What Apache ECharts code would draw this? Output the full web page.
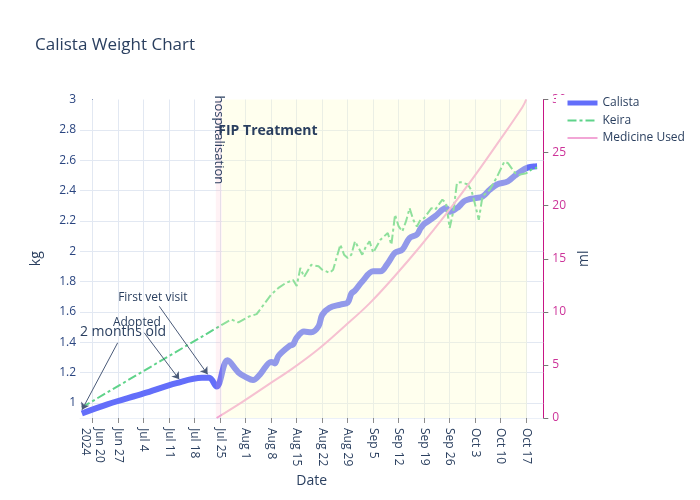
<!DOCTYPE html>
<html><head><meta charset="utf-8">
<script src="https://cdn.jsdelivr.net/npm/echarts@6/dist/echarts.min.js"></script>
<style>html,body{margin:0;padding:0;background:#fff}#c{width:700px;height:500px}</style>
</head><body><div id="c"></div>
<script>
// ---------- data ----------
const calistaDates = ['2024-06-17','2024-06-24','2024-07-04','2024-07-13','2024-07-20','2024-07-22','2024-07-24','2024-07-27','2024-07-30','2024-08-01','2024-08-03','2024-08-05','2024-08-08','2024-08-09','2024-08-10','2024-08-13','2024-08-14','2024-08-15','2024-08-17','2024-08-19','2024-08-21','2024-08-22','2024-08-24','2024-08-27','2024-08-29','2024-08-30','2024-08-31','2024-09-02','2024-09-05','2024-09-07','2024-09-09','2024-09-11','2024-09-13','2024-09-15','2024-09-17','2024-09-18','2024-09-19','2024-09-20','2024-09-22','2024-09-25','2024-09-26','2024-09-28','2024-09-29','2024-09-30','2024-10-01','2024-10-03','2024-10-05','2024-10-07','2024-10-09','2024-10-12','2024-10-14','2024-10-17','2024-10-19','2024-10-20'];
const calistaKg = [0.93,0.99,1.062,1.13,1.165,1.165,1.107,1.28,1.20,1.17,1.15,1.19,1.27,1.26,1.31,1.375,1.385,1.43,1.47,1.465,1.505,1.58,1.626,1.648,1.66,1.72,1.74,1.80,1.867,1.867,1.92,1.99,2.01,2.087,2.11,2.15,2.18,2.196,2.23,2.284,2.26,2.284,2.306,2.33,2.34,2.35,2.36,2.405,2.44,2.46,2.50,2.547,2.558,2.56];

const keiraDates = ['2024-06-17','2024-07-28','2024-07-30','2024-08-02','2024-08-04','2024-08-08','2024-08-10','2024-08-12','2024-08-14','2024-08-15','2024-08-16','2024-08-17','2024-08-19','2024-08-21','2024-08-22','2024-08-24','2024-08-25','2024-08-27','2024-08-28','2024-08-29','2024-08-30','2024-08-31','2024-09-02','2024-09-03','2024-09-04','2024-09-05','2024-09-07','2024-09-09','2024-09-10','2024-09-11','2024-09-12','2024-09-13','2024-09-14','2024-09-15','2024-09-16','2024-09-17','2024-09-18','2024-09-19','2024-09-21','2024-09-22','2024-09-24','2024-09-25','2024-09-26','2024-09-27','2024-09-28','2024-09-29','2024-10-01','2024-10-02','2024-10-03','2024-10-04','2024-10-05','2024-10-07','2024-10-09','2024-10-11','2024-10-12','2024-10-14','2024-10-15','2024-10-17','2024-10-19','2024-10-20'];
const keiraKg = [0.97,1.55,1.53,1.57,1.585,1.714,1.758,1.79,1.81,1.77,1.89,1.83,1.91,1.90,1.878,1.857,1.878,2.043,1.977,1.955,1.977,2.065,1.977,2.03,2.065,1.99,2.076,2.12,2.043,2.24,2.163,2.13,2.196,2.284,2.207,2.163,2.207,2.218,2.284,2.273,2.34,2.317,2.153,2.262,2.45,2.455,2.44,2.40,2.306,2.207,2.36,2.405,2.49,2.59,2.58,2.514,2.503,2.514,2.547,2.55];

const medicineDates = ['2024-07-24','2024-07-31','2024-08-07','2024-08-14','2024-08-21','2024-08-28','2024-09-04','2024-09-11','2024-09-18','2024-09-25','2024-10-02','2024-10-09','2024-10-16','2024-10-17'];
const medicineMl = [0,1.5,3.1,4.7,6.5,8.6,10.8,13.4,16.2,19.2,22.4,25.8,29.3,30];

const xTickDates = ['2024-06-20','2024-06-27','2024-07-04','2024-07-11','2024-07-18','2024-07-25','2024-08-01','2024-08-08','2024-08-15','2024-08-22','2024-08-29','2024-09-05','2024-09-12','2024-09-19','2024-09-26','2024-10-03','2024-10-10','2024-10-17'];
const kgTicks = [1,1.2,1.4,1.6,1.8,2,2.2,2.4,2.6,2.8,3];
const mlTicks = [0,5,10,15,20,25,30];

const hospitalisationSpan = ['2024-07-23T19:00','2024-07-25T10:00'];
const fipSpan = ['2024-07-25T10:00','2024-10-17T05:00'];
const xRange = ['2024-06-16T12:00','2024-10-21T17:00'];
const kgRange = [0.9, 3];

// ---------- helpers ----------
const origin = Date.UTC(2024,5,20);
function dayOf(s){ const iso = s.length===10 ? s+'T00:00:00Z' : s+':00Z'; return (Date.parse(iso)-origin)/86400000; }
const MON = ['Jan','Feb','Mar','Apr','May','Jun','Jul','Aug','Sep','Oct','Nov','Dec'];
function fmtDay(v){
  const d = new Date(origin + Math.round(v)*86400000);
  const s = MON[d.getUTCMonth()]+' '+d.getUTCDate();
  return Math.round(v)===0 ? s+'\n'+d.getUTCFullYear() : s;
}
const pairs = (ds, vs) => ds.map((d,i)=>[dayOf(d), vs[i]]);
const xTicks = xTickDates.map(dayOf);
const xMin = dayOf(xRange[0]), xMax = dayOf(xRange[1]);

const txt = '#2a3f5f';
const font = '"Open Sans", verdana, arial, sans-serif';
const gridColor = '#e2e8f2';

const annotationTexts = [
  {name:'2 months old', coord:[8.3,1.47], size:14},
  {name:'Adopted', coord:[12.1,1.53], size:12},
  {name:'First vet visit', coord:[16.5,1.694], size:12},
  {name:'hospitalisation', coord:[34.64,2.734], size:13, rotate:-90},
  {name:'FIP Treatment', coord:[48.1,2.793], size:14, bold:true}
];
const annotationArrows = [
  [[6.84,1.396],[-2.96,0.954]],
  [[14.14,1.462],[23.74,1.155]],
  [[18.25,1.637],[31.54,1.188]]
];

const gridLines = [
  ...xTicks.map(v=>[{coord:[v,kgRange[0]]},{coord:[v,kgRange[1]]}]),
  ...kgTicks.slice(0,-1).map(v=>[{coord:[xMin,v]},{coord:[xMax,v]}])
];

const chart = echarts.init(document.getElementById('c'), null, {renderer:'canvas'});
chart.setOption({
  animation:false,
  textStyle:{fontFamily:font},
  title:{text:'Calista Weight Chart', left:30, top:32, textStyle:{fontFamily:font, fontSize:17, fontWeight:'normal', color:txt}},
  legend:{
    left:556, top:95, orient:'vertical', padding:[2,4,2,9], itemGap:5.5, itemWidth:30, itemHeight:14,
    backgroundColor:'#fff', textStyle:{fontFamily:font, fontSize:12, color:txt},
    itemStyle:{color:'rgba(0,0,0,0)', borderWidth:0, opacity:0},
    data:[{name:'Calista', lineStyle:{width:5}},{name:'Keira'},{name:'Medicine Used'}]
  },
  grid:{left:80, right:156.7, top:99.5, bottom:82},
  xAxis:{
    type:'value', min:xMin, max:xMax,
    name:'Date', nameLocation:'middle', nameGap:56,
    nameTextStyle:{fontFamily:font, fontSize:14, color:txt},
    axisLine:{show:true, lineStyle:{color:'#ebf0f8', width:1}},
    axisTick:{show:true, customValues:xTicks, length:5, lineStyle:{color:'#8c8c8c'}},
    axisLabel:{customValues:xTicks, rotate:-90, margin:10, fontSize:12, color:txt, formatter:fmtDay, lineHeight:14},
    splitLine:{show:false}
  },
  yAxis:[{
    type:'value', min:kgRange[0], max:kgRange[1], position:'left',
    name:'kg', nameLocation:'middle', nameGap:37, nameRotate:90,
    nameTextStyle:{fontFamily:font, fontSize:14, color:txt},
    axisLine:{show:true, lineStyle:{color:'#1f3b78', width:1}},
    axisTick:{show:false, customValues:kgTicks},
    axisLabel:{customValues:kgTicks, margin:4, fontSize:12, color:'#2a4580'},
    splitLine:{show:false}
  },{
    type:'value', min:0, max:30, interval:5, position:'right',
    name:'ml', nameLocation:'middle', nameGap:34, nameRotate:90,
    nameTextStyle:{fontFamily:font, fontSize:14, color:txt},
    axisLine:{show:true, lineStyle:{color:'#c71585', width:1}},
    axisTick:{show:true, length:5, lineStyle:{color:'#777'}},
    axisLabel:{margin:9, fontSize:12, color:'#cc3399'},
    splitLine:{show:false}
  }],
  series:[
    {name:'gridlines', type:'line', data:[], silent:true, z:1,
     markLine:{silent:true, z:1, symbol:['none','none'], label:{show:false},
       lineStyle:{color:gridColor, width:1, type:'solid', opacity:1},
       emphasis:{disabled:true},
       data:gridLines}},
    {name:'Calista', type:'line', data:pairs(calistaDates, calistaKg), showSymbol:false, symbol:'none', smooth:0.35,
     lineStyle:{color:'#636efa', width:6}, itemStyle:{color:'#636efa'}, z:2},
    {name:'Keira', type:'line', data:pairs(keiraDates, keiraKg), showSymbol:false, symbol:'none', smooth:false,
     lineStyle:{color:'#5fd38a', width:2, type:[9,3,3,3]}, itemStyle:{color:'#5fd38a'}, z:2},
    {name:'Medicine Used', type:'line', yAxisIndex:1, data:pairs(medicineDates, medicineMl), showSymbol:false, symbol:'none', smooth:0.4,
     lineStyle:{color:'#f2a6d6', width:2}, itemStyle:{color:'#f2a6d6'}, z:2},
    {name:'shapes', type:'line', data:[], z:4, silent:true,
     markArea:{silent:true, z:4, data:[
       [{xAxis:dayOf(hospitalisationSpan[0]), itemStyle:{color:'rgba(255,160,185,0.14)'}},{xAxis:dayOf(hospitalisationSpan[1])}],
       [{xAxis:dayOf(fipSpan[0]), itemStyle:{color:'rgba(255,255,198,0.3)'}},{xAxis:dayOf(fipSpan[1])}]
     ]}},
    {name:'annotations', type:'line', data:[], z:6, silent:true,
     markLine:{silent:true, z:6, symbol:['none','arrow'], symbolSize:7, label:{show:false},
       lineStyle:{color:'#4a5a78', width:1, type:'solid'},
       data:annotationArrows.map(a=>[{coord:a[0]},{coord:a[1]}])},
     markPoint:{silent:true, z:7, symbol:'circle', symbolSize:0,
       data:annotationTexts.map(t=>({name:t.name, coord:t.coord,
         label:{show:true, position:'inside', formatter:t.name, rotate:t.rotate||0, fontFamily:font,
           fontSize:t.size, fontWeight:t.bold?'bold':'normal', color:txt}}))}}
  ]
});
</script></body></html>
